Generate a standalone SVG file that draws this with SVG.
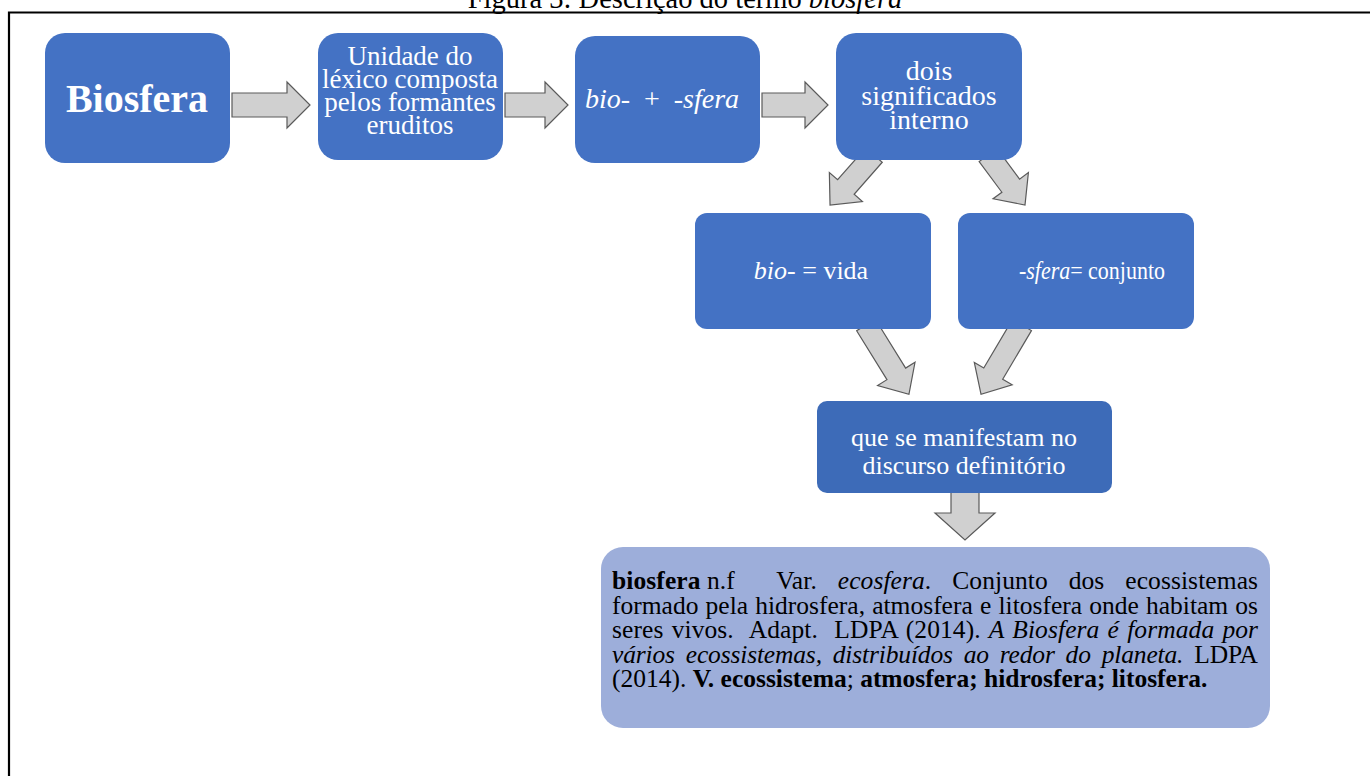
<svg xmlns="http://www.w3.org/2000/svg" width="1370" height="776" viewBox="0 0 1370 776">
<style>
.box{fill:#4472C4}
.box7{fill:#3D6BB8}
.def{fill:#9DAEDA}
.arrow{fill:#D0D0D0;stroke:#5A5A5A;stroke-width:1.2;stroke-linejoin:miter}
.t{font-family:"Liberation Serif","Times New Roman",serif;fill:#FFFFFF;text-anchor:middle}
.d{font-family:"Liberation Serif","Times New Roman",serif;fill:#000000;font-size:25.5px}
.i{font-style:italic}
.b{font-weight:bold}
</style>
<rect x="0" y="0" width="1370" height="776" fill="#FFFFFF"/>
<text x="685" y="8" style="font-family:'Liberation Serif','Times New Roman',serif;font-size:28.5px" text-anchor="middle" fill="#000">Figura 3: Descrição do termo <tspan font-style="italic">biosfera</tspan></text>
<path d="M9,776 V12.5 H1370" fill="none" stroke="#000" stroke-width="2.2"/>

<g id="connectors">
<path class="arrow" d="M232,93 H287 V82 L310,105 L287,128 V117 H232 Z"/>
<path class="arrow" d="M505,93 H545 V82 L568,105 L545,128 V117 H505 Z"/>
<path class="arrow" d="M762,93 H805 V82 L828,105 L805,128 V117 H762 Z"/>
<path class="arrow" transform="translate(874,155) rotate(131.3)" d="M0,-11 H42.6 V-22 L66.6,0 L42.6,22 V11 H0 Z"/>
<path class="arrow" transform="translate(988,155) rotate(53.5)" d="M0,-11 H38.2 V-22 L62.2,0 L38.2,22 V11 H0 Z"/>
<path class="arrow" transform="translate(866,325) rotate(58.2)" d="M0,-11 H57.5 V-22 L81.5,0 L57.5,22 V11 H0 Z"/>
<path class="arrow" transform="translate(1022,325) rotate(120.6)" d="M0,-11 H56.5 V-22 L80.5,0 L56.5,22 V11 H0 Z"/>
<path class="arrow" d="M951,490 V513 H935 L965,540 L995,513 H979 V490 Z"/>
</g>

<g id="n-biosfera">
<rect class="box" x="45" y="33" width="185" height="130" rx="20"/>
<text class="t b" x="137" y="112" style="font-size:40px">Biosfera</text>
</g>
<g id="n-unidade">
<rect class="box" x="318" y="33" width="185" height="127" rx="20"/>
<text class="t" style="font-size:27px"><tspan x="410" y="65">Unidade do</tspan><tspan x="410" y="88">léxico composta</tspan><tspan x="410" y="111">pelos formantes</tspan><tspan x="410" y="134">eruditos</tspan></text>
</g>
<g id="n-bio-sfera">
<rect class="box" x="575" y="36" width="185" height="127" rx="20"/>
<text class="t" x="662" y="108" style="font-size:28px" xml:space="preserve"><tspan class="i">bio-</tspan>  +  <tspan class="i">-sfera</tspan></text>
</g>
<g id="n-dois">
<rect class="box" x="836" y="33" width="186" height="127" rx="20"/>
<text class="t" style="font-size:28px"><tspan x="929" y="80">dois</tspan><tspan x="929" y="105">significados</tspan><tspan x="929" y="129">interno</tspan></text>
</g>
<g id="n-vida">
<rect class="box" x="695" y="213" width="236" height="116" rx="12"/>
<text class="t" x="811" y="279" style="font-size:26px"><tspan class="i">bio-</tspan> = vida</text>
</g>
<g id="n-conjunto">
<rect class="box" x="958" y="213" width="236" height="116" rx="12"/>
<text class="t" x="1092" y="279" style="font-size:25px" textLength="146" lengthAdjust="spacingAndGlyphs"><tspan class="i">-sfera</tspan>= conjunto</text>
</g>
<g id="n-manifestam">
<rect class="box7" x="817" y="401" width="295" height="92" rx="10"/>
<text class="t" style="font-size:26px"><tspan x="964" y="446">que se manifestam no</tspan><tspan x="964" y="474">discurso definitório</tspan></text>
</g>
<g id="n-definicao">
<rect class="def" x="601" y="547" width="669" height="181" rx="22"/>
<text class="d" x="612" y="589" xml:space="preserve" style="word-spacing:14.4px" textLength="646" lengthAdjust="spacing"><tspan class="b" style="word-spacing:0px">biosfera </tspan>n.f  Var. <tspan class="i">ecosfera</tspan>. Conjunto dos ecossistemas</text>
<text class="d" x="612" y="613.5" style="word-spacing:0.8px" textLength="646" lengthAdjust="spacing">formado pela hidrosfera, atmosfera e litosfera onde habitam os</text>
<text class="d" x="612" y="638" xml:space="preserve" style="word-spacing:1.7px" textLength="646" lengthAdjust="spacing">seres vivos.  Adapt.  LDPA (2014). <tspan class="i">A Biosfera é formada por</tspan></text>
<text class="d" x="612" y="662.5" style="word-spacing:4.7px" textLength="646" lengthAdjust="spacing"><tspan class="i">vários ecossistemas, distribuídos ao redor do planeta.</tspan> LDPA</text>
<text class="d" x="612" y="687">(2014). <tspan class="b">V. ecossistema</tspan>; <tspan class="b">atmosfera; hidrosfera; litosfera.</tspan></text>
</g>
</svg>
